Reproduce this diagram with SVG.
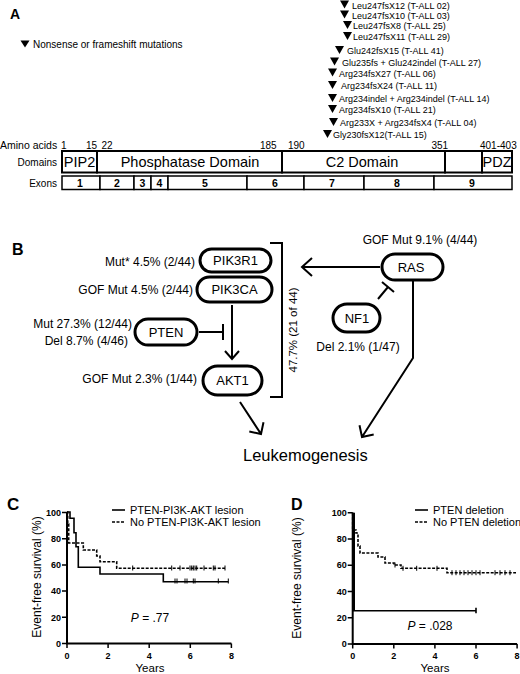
<svg xmlns="http://www.w3.org/2000/svg" width="520" height="674" viewBox="0 0 520 674">
<style>
text{font-family:"Liberation Sans",Arial,sans-serif;fill:#000}
.mu{font-size:9px}
.b{font-weight:bold}
.pill{fill:#fff;stroke:#000;stroke-width:3}
.pt{font-size:13px;text-anchor:middle}
.lb{font-size:12px}
.ln{stroke:#000;stroke-width:2;fill:none}
.box{fill:#fff;stroke:#000;stroke-width:2}
.ex{fill:#fff;stroke:#000;stroke-width:1.5}
.ax{stroke:#000;stroke-width:2;fill:none}
.tk{stroke:#000;stroke-width:1.5}
.tl{font-size:9px;font-weight:bold}
.sol{stroke:#000;stroke-width:1.6;fill:none}
.dsh{stroke:#000;stroke-width:1.6;fill:none;stroke-dasharray:3 1.5}
.cen{stroke:#000;stroke-width:1;fill:none}
.lg{font-size:11px}
</style>
<defs>
<polygon id="tri" points="0,0 9,0 4.5,8" fill="#000"/>
</defs>

<g id="panelA">
<text x="10" y="18.5" class="b" font-size="14">A</text>
<g id="legendA">
<polygon points="20.5,40.5 29.5,40.5 25,47.5" fill="#000"/>
<text x="33" y="48" font-size="10">Nonsense or frameshift mutations</text>
</g>
<g id="mutations">
<use href="#tri" x="340" y="0.5"/><text x="352" y="8.5" class="mu">Leu247fsX12 (T-ALL 02)</text>
<use href="#tri" x="340" y="10.5"/><text x="352" y="18.5" class="mu">Leu247fsX10 (T-ALL 03)</text>
<use href="#tri" x="343" y="21"/><text x="353" y="29" class="mu">Leu247fsX8 (T-ALL 25)</text>
<use href="#tri" x="343" y="32"/><text x="353" y="40" class="mu">Leu247fsX11 (T-ALL 29)</text>
<use href="#tri" x="335" y="46"/><text x="347" y="54" class="mu">Glu242fsX15 (T-ALL 41)</text>
<use href="#tri" x="330" y="57.5"/><text x="342" y="65.5" class="mu">Glu235fs + Glu242indel (T-ALL 27)</text>
<use href="#tri" x="328" y="68.5"/><text x="339" y="76.5" class="mu">Arg234fsX27 (T-ALL 06)</text>
<use href="#tri" x="328" y="81"/><text x="341" y="89" class="mu">Arg234fsX24 (T-ALL 11)</text>
<use href="#tri" x="328" y="94"/><text x="339" y="102" class="mu">Arg234indel + Arg234indel (T-ALL 14)</text>
<use href="#tri" x="328" y="105"/><text x="339" y="113" class="mu">Arg234fsX10 (T-ALL 21)</text>
<use href="#tri" x="329" y="118"/><text x="340" y="126" class="mu">Arg233X + Arg234fsX4 (T-ALL 04)</text>
<use href="#tri" x="323" y="130"/><text x="333" y="138" class="mu">Gly230fsX12(T-ALL 15)</text>
</g>
<g id="aminoacids" font-size="10">
<text x="0" y="148.5" font-size="10.5">Amino acids</text>
<text x="61" y="148.5">1</text>
<text x="86" y="148.5">15</text>
<text x="101.5" y="148.5">22</text>
<text x="260" y="148.5">185</text>
<text x="288" y="148.5">190</text>
<text x="431.5" y="148.5">351</text>
<text x="480" y="148.5">401-403</text>
</g>
<g id="domains">
<text x="57" y="165.5" font-size="10" text-anchor="end">Domains</text>
<rect class="box" x="62" y="151" width="35" height="21.5"/>
<rect class="box" x="97" y="151" width="185" height="21.5"/>
<rect class="box" x="282" y="151" width="163" height="21.5"/>
<rect class="box" x="445" y="151" width="37" height="21.5"/>
<rect class="box" x="482" y="151" width="30" height="21.5"/>
<g font-size="14.5" text-anchor="middle">
<text x="79.5" y="167">PIP2</text>
<text x="190" y="167">Phosphatase Domain</text>
<text x="362" y="167">C2 Domain</text>
<text x="497" y="167">PDZ</text>
</g>
</g>
<g id="exons">
<text x="57" y="187" font-size="10" text-anchor="end">Exons</text>
<rect class="ex" x="62" y="176" width="38" height="13.5"/>
<rect class="ex" x="100" y="176" width="34" height="13.5"/>
<rect class="ex" x="134" y="176" width="17" height="13.5"/>
<rect class="ex" x="151" y="176" width="17" height="13.5"/>
<rect class="ex" x="168" y="176" width="79" height="13.5"/>
<rect class="ex" x="247" y="176" width="57" height="13.5"/>
<rect class="ex" x="304" y="176" width="60" height="13.5"/>
<rect class="ex" x="364" y="176" width="70" height="13.5"/>
<rect class="ex" x="434" y="176" width="78" height="13.5"/>
<g font-size="10.5" class="b" text-anchor="middle">
<text x="80" y="187">1</text>
<text x="117" y="187">2</text>
<text x="142.5" y="187">3</text>
<text x="159.5" y="187">4</text>
<text x="205" y="187">5</text>
<text x="275" y="187">6</text>
<text x="332" y="187">7</text>
<text x="397" y="187">8</text>
<text x="472" y="187">9</text>
</g>
</g>
</g>

<g id="panelB">
<text x="12" y="255" class="b" font-size="16">B</text>
<g id="PIK3R1"><rect class="pill" x="200" y="249" width="71" height="23" rx="11.5"/><text class="pt" x="235.5" y="265">PIK3R1</text></g>
<g id="PIK3CA"><rect class="pill" x="197" y="277" width="75" height="25" rx="12.5"/><text class="pt" x="234.5" y="294">PIK3CA</text></g>
<g id="PTEN"><rect class="pill" x="135" y="319" width="62" height="26" rx="13"/><text class="pt" x="166" y="336.5">PTEN</text></g>
<g id="AKT1"><rect class="pill" x="203" y="366" width="59" height="29" rx="14.5"/><text class="pt" x="232.5" y="385">AKT1</text></g>
<g id="RAS"><rect class="pill" x="382" y="254" width="61" height="26" rx="13"/><text class="pt" x="411" y="271.5">RAS</text></g>
<g id="NF1"><rect class="pill" x="333" y="304" width="47" height="28" rx="14"/><text class="pt" x="357" y="322.5">NF1</text></g>
<g id="Leukemogenesis"><text x="243" y="461" font-size="16.5">Leukemogenesis</text></g>
<g id="labelsB" class="lb">
<text x="195" y="265.5" text-anchor="end">Mut* 4.5% (2/44)</text>
<text x="193" y="294" text-anchor="end">GOF Mut 4.5% (2/44)</text>
<text x="132" y="328" text-anchor="end">Mut 27.3% (12/44)</text>
<text x="128" y="345" text-anchor="end">Del 8.7% (4/46)</text>
<text x="197" y="382.5" text-anchor="end">GOF Mut 2.3% (1/44)</text>
<text x="420" y="244" text-anchor="middle">GOF Mut 9.1% (4/44)</text>
<text x="358" y="351" text-anchor="middle">Del 2.1% (1/47)</text>
<text transform="translate(297,330) rotate(-90)" text-anchor="middle" font-size="11.5">47.7% (21 of 44)</text>
</g>
<g id="connectors">
<path class="ln" d="M270,243 H282 V397 H270"/>
<path class="ln" d="M380,267 H303 M312,258 L302,267 L312,276"/>
<path class="ln" d="M232,305 V358 M225,351 L232,359 L239,351"/>
<path class="ln" d="M199,332 H223 M223,324 V340"/>
<path class="ln" d="M378,299 L388,287 M382,282 L394,292"/>
<path class="ln" d="M240,402 L261,434 M249.3,431.5 L261,434 L263.5,422.3"/>
<path class="ln" d="M413,281 V358 L362,437 M373.7,434.5 L362,437 L359.5,425.3"/>
</g>
</g>

<g id="panelC">
<text x="7" y="510" class="b" font-size="17">C</text>
<path class="ax" d="M67,512 V643.5 H231.4"/>
<path class="tk" d="M62,643.5H67 M62,617.3H67 M62,591.1H67 M62,564.9H67 M62,538.7H67 M62,512.5H67 M67,643.5V648 M108.1,643.5V648 M149.2,643.5V648 M190.3,643.5V648 M231.4,643.5V648"/>
<g class="tl" text-anchor="end">
<text x="61" y="646.7">0</text><text x="61" y="620.5">20</text><text x="61" y="594.3">40</text><text x="61" y="568.1">60</text><text x="61" y="541.9">80</text><text x="61" y="515.7">100</text>
</g>
<g class="tl" text-anchor="middle">
<text x="67" y="659">0</text><text x="108.1" y="659">2</text><text x="149.2" y="659">4</text><text x="190.3" y="659">6</text><text x="231.4" y="659">8</text>
</g>
<text x="150" y="672" font-size="11.5" text-anchor="middle">Years</text>
<text transform="translate(41,577) rotate(-90)" font-size="12" text-anchor="middle">Event-free survival (%)</text>
<path class="sol" d="M67,512 H70 V518.3 H74 V532.7 H76 V546.7 H78.3 V567.3 H100 V574 H163.3 V581.7 H228.3"/>
<path class="dsh" d="M67,512 H67.7 V524 H68.7 V543 H83.3 V550 H96.7 V556 H100 V561.7 H116.7 V568.3 H225"/>
<path class="cen" d="M175,578.5V583.5 M177,578.5V583.5 M185,578.5V583.5 M187,578.5V583.5 M193.3,578.5V583.5 M195,578.5V583.5 M218.3,578.5V583.5 M228.3,578.5V583.5"/>
<path class="cen" d="M132.7,565.5V570.5 M171.7,565.5V570.5 M180,565.5V570.5 M190,565.5V570.5 M191.7,565.5V570.5 M193.3,565.5V570.5 M195,565.5V570.5 M196.7,565.5V570.5 M204,565.5V570.5 M213.3,565.5V570.5 M215,565.5V570.5 M225,565.5V570.5"/>
<path class="sol" d="M112,510 H125"/>
<path class="dsh" d="M112,522 H125"/>
<text x="130" y="514" class="lg">PTEN-PI3K-AKT lesion</text>
<text x="130" y="526" class="lg">No PTEN-PI3K-AKT lesion</text>
<text x="150" y="622" font-size="12" text-anchor="middle"><tspan font-style="italic">P</tspan> = .77</text>
</g>

<g id="panelD">
<text x="291" y="510" class="b" font-size="16">D</text>
<path class="ax" d="M352.7,512.7 V644 H517.1"/>
<path class="tk" d="M347.7,644H352.7 M347.7,617.7H352.7 M347.7,591.5H352.7 M347.7,565.2H352.7 M347.7,538.9H352.7 M347.7,512.7H352.7 M352.7,644V648.5 M393.8,644V648.5 M434.9,644V648.5 M476,644V648.5 M517.1,644V648.5"/>
<g class="tl" text-anchor="end">
<text x="346.7" y="647.2">0</text><text x="346.7" y="620.9">20</text><text x="346.7" y="594.7">40</text><text x="346.7" y="568.4">60</text><text x="346.7" y="542.1">80</text><text x="346.7" y="515.9">100</text>
</g>
<g class="tl" text-anchor="middle">
<text x="352.7" y="659">0</text><text x="393.8" y="659">2</text><text x="434.9" y="659">4</text><text x="476" y="659">6</text><text x="517.1" y="659">8</text>
</g>
<text x="435" y="672" font-size="11.5" text-anchor="middle">Years</text>
<text transform="translate(301,578) rotate(-90)" font-size="12" text-anchor="middle">Event-free survival (%)</text>
<path stroke="#000" stroke-width="3" fill="none" d="M353.5,512.7 V610.7"/>
<path class="sol" d="M353,610.7 H476 M476,607.7 V613.2"/>
<path class="dsh" d="M352.7,512.7 V530 H356 V533 H358 V546 H360 V553 H378 V557 H385 V563 H394 V565 H401 V568.3 H447 V572.7 H516"/>
<path class="cen" d="M395,562.5V567.5 M403,565.8V570.8 M416.7,565.8V570.8 M437,565.8V570.8 M452,570.2V575.2 M456,570.2V575.2 M460,570.2V575.2 M464,570.2V575.2 M468,570.2V575.2 M472,570.2V575.2 M476,570.2V575.2 M480,570.2V575.2 M495,570.2V575.2 M500,570.2V575.2 M505,570.2V575.2 M510,570.2V575.2"/>
<path class="sol" d="M415,510 H428"/>
<path class="dsh" d="M415,522 H428"/>
<text x="433" y="514" class="lg">PTEN deletion</text>
<text x="433" y="526" class="lg">No PTEN deletion</text>
<text x="430" y="630" font-size="12" text-anchor="middle"><tspan font-style="italic">P</tspan> = .028</text>
</g>
</svg>
